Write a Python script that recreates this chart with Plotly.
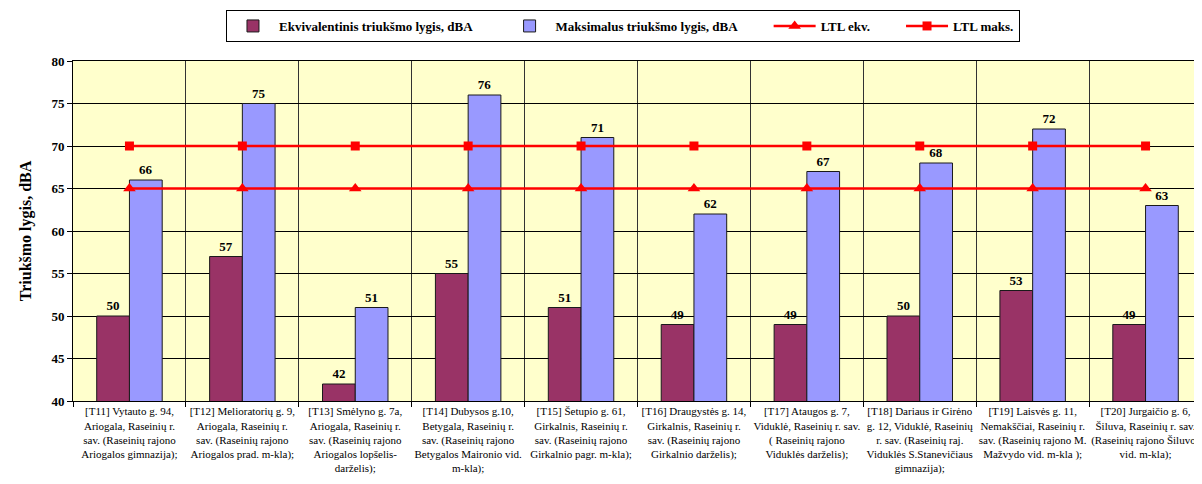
import plotly.graph_objects as go

categories = [
    "[T11] Vytauto g. 94,<br>Ariogala, Raseinių r.<br>sav. (Raseinių rajono<br>Ariogalos gimnazija);",
    "[T12] Melioratorių g. 9,<br>Ariogala, Raseinių r.<br>sav. (Raseinių rajono<br>Ariogalos prad. m-kla);",
    "[T13] Smėlyno g. 7a,<br>Ariogala, Raseinių r.<br>sav. (Raseinių rajono<br>Ariogalos lopšelis-<br>darželis);",
    "[T14] Dubysos g.10,<br>Betygala, Raseinių r.<br>sav. (Raseinių rajono<br>Betygalos Maironio vid.<br>m-kla);",
    "[T15] Šetupio g. 61,<br>Girkalnis, Raseinių r.<br>sav. (Raseinių rajono<br>Girkalnio pagr. m-kla);",
    "[T16] Draugystės g. 14,<br>Girkalnis, Raseinių r.<br>sav. (Raseinių rajono<br>Girkalnio darželis);",
    "[T17] Ataugos g. 7,<br>Viduklė, Raseinių r. sav.<br>( Raseinių rajono<br>Viduklės darželis);",
    "[T18] Dariaus ir Girėno<br>g. 12, Viduklė, Raseinių<br>r. sav. (Raseinių raj.<br>Viduklės S.Stanevičiaus<br>gimnazija);",
    "[T19] Laisvės g. 11,<br>Nemakščiai, Raseinių r.<br>sav. (Raseinių rajono M.<br>Mažvydo vid. m-kla );",
    "[T20] Jurgaičio g. 6,<br>Šiluva, Raseinių r. sav.<br>(Raseinių rajono Šiluvos<br>vid. m-kla);",
]
ekv = [50, 57, 42, 55, 51, 49, 49, 50, 53, 49]
maks = [66, 75, 51, 76, 71, 62, 67, 68, 72, 63]
ltl_ekv = [65] * 10
ltl_maks = [70] * 10

series_names = [
    "Ekvivalentinis triukšmo lygis, dBA",
    "Maksimalus triukšmo lygis, dBA",
    "LTL ekv.",
    "LTL maks.",
]

FONT = "Liberation Serif, Times New Roman, serif"
PAD = "\u00a0" * 8  # legend spacing between entries


def legend_name(i):
    return series_names[i] + (PAD if i < len(series_names) - 1 else "")


fig = go.Figure()
fig.add_trace(go.Bar(
    x=categories, y=ekv, name=legend_name(0),
    marker=dict(color="#993366", line=dict(color="#1a1a1a", width=1)),
    text=ekv, textposition="outside", cliponaxis=False,
    textfont=dict(family=FONT, size=13, color="black", weight="bold"),
))
fig.add_trace(go.Bar(
    x=categories, y=maks, name=legend_name(1),
    marker=dict(color="#9999FF", line=dict(color="#1a1a1a", width=1)),
    text=maks, textposition="outside", cliponaxis=False,
    textfont=dict(family=FONT, size=13, color="black", weight="bold"),
))
fig.add_trace(go.Scatter(
    x=categories, y=ltl_ekv, name=legend_name(2), mode="lines+markers",
    line=dict(color="#FF0000", width=2.5),
    marker=dict(symbol="triangle-up", size=11, color="#FF0000"),
))
fig.add_trace(go.Scatter(
    x=categories, y=ltl_maks, name=legend_name(3), mode="lines+markers",
    line=dict(color="#FF0000", width=2.5),
    marker=dict(symbol="square", size=9, color="#FF0000"),
))

fig.update_layout(
    width=1194, height=476,
    margin=dict(l=65, r=0, t=53, b=83, autoexpand=False),
    paper_bgcolor="white",
    plot_bgcolor="#FFFFCC",
    barmode="group", bargap=0.42, bargroupgap=0,
    font=dict(family=FONT, color="black"),
    showlegend=True,
    legend=dict(
        orientation="h", x=0.1355, y=1.15, xanchor="left", yanchor="top",
        bordercolor="black", borderwidth=1, bgcolor="white",
        font=dict(family=FONT, size=13, color="black", weight="bold"),
        itemwidth=42,
    ),
    xaxis=dict(
        range=[-0.5, len(categories) - 0.5], autorange=False,
        tickson="boundaries", showgrid=True, gridcolor="#333333", gridwidth=1,
        ticks="outside", ticklen=5, tickcolor="black",
        showline=True, linecolor="black", linewidth=1, mirror=True,
        tickfont=dict(family=FONT, size=11, color="black"),
        tickangle=0, automargin=False,
    ),
    yaxis=dict(
        range=[40, 80], dtick=5, showgrid=True, gridcolor="black", gridwidth=1,
        ticks="outside", ticklen=5, tickcolor="black",
        showline=True, linecolor="black", linewidth=1, mirror=True,
        tickfont=dict(family=FONT, size=13, color="black", weight="bold"),
        title=dict(text="Triukšmo lygis, dBA",
                   font=dict(family=FONT, size=16, color="black", weight="bold")),
        zeroline=False, automargin=False,
    ),
)

fig.write_html("out.html")
